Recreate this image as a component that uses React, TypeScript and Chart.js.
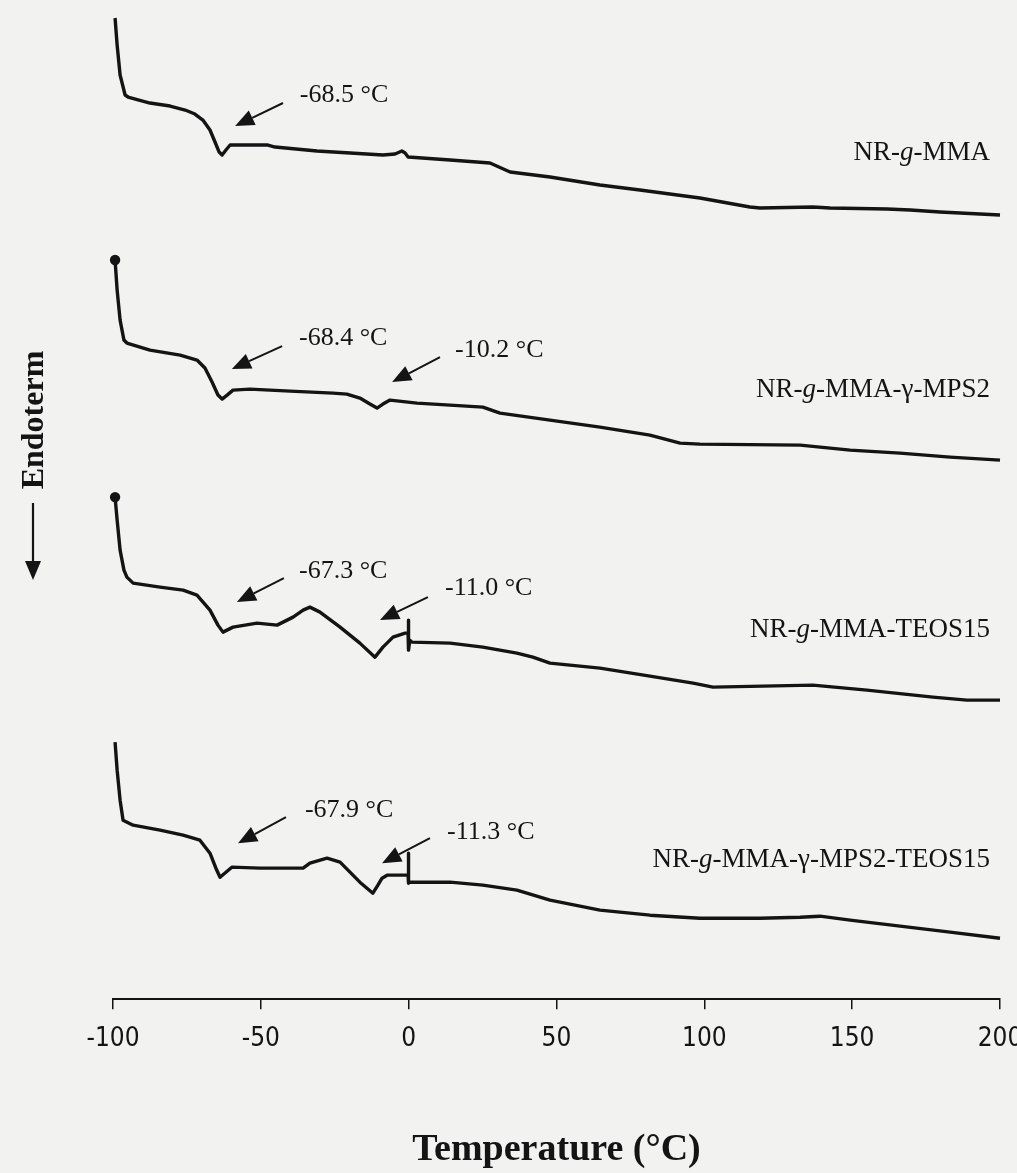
import React, { useEffect, useRef } from 'react';
import { Chart, registerables } from 'chart.js';

Chart.register(...registerables);

// X axis ticks (°C)
const tempTicks = [-100, -50, 0, 50, 100, 150, 200];

// NR-g-MMA
const mmaT = [-99.3, -98.6, -97.6, -95.9, -94.9, -87.5, -80.7, -75.6, -72.3, -69.6, -67.2, -65.5, -64.1, -63.1, -61.8, -60.4, -47.6, -45.2, -31.0, -19.8, -8.7, -4.6, -2.3, -1.2, -0.2, 14.0, 27.5, 34.3, 47.8, 64.7, 78.2, 98.5, 115.4, 118.8, 136.7, 142.5, 161.8, 169.6, 179.7, 200];
const mmaH = [98.1, 95.4, 92.4, 90.4, 90.2, 89.6, 89.3, 88.9, 88.5, 87.9, 86.9, 85.7, 84.7, 84.4, 84.9, 85.4, 85.4, 85.2, 84.8, 84.6, 84.4, 84.5, 84.8, 84.6, 84.2, 83.9, 83.6, 82.7, 82.2, 81.4, 80.9, 80.1, 79.2, 79.1, 79.2, 79.1, 79.0, 78.9, 78.7, 78.4];

// NR-g-MMA-γ-MPS2
const mpsT = [-99.3, -98.6, -97.6, -96.3, -95.3, -87.5, -77.3, -71.6, -68.9, -66.5, -64.5, -63.1, -61.4, -59.4, -53.7, -40.1, -25.6, -20.9, -16.5, -13.1, -10.7, -8.7, -6.3, 2.8, 14.0, 25.1, 30.9, 47.8, 64.7, 81.6, 91.8, 98.5, 132.4, 149.3, 166.2, 183.1, 200];
const mpsH = [73.9, 70.9, 67.9, 65.9, 65.6, 64.9, 64.4, 63.9, 63.1, 61.7, 60.4, 60.0, 60.4, 60.9, 61.0, 60.8, 60.6, 60.5, 60.1, 59.5, 59.1, 59.5, 59.9, 59.6, 59.4, 59.2, 58.6, 57.9, 57.2, 56.4, 55.6, 55.5, 55.4, 54.9, 54.6, 54.2, 53.9];

// NR-g-MMA-TEOS15
const teosT = [-99.3, -98.6, -97.6, -96.3, -95.3, -93.2, -84.1, -76.3, -71.6, -67.2, -64.5, -62.8, -59.4, -51.3, -44.5, -39.1, -35.7, -33.4, -30.0, -23.2, -16.5, -11.4, -8.7, -5.3, -1.2, -0.2, -0.2, 0.1, 0.4, 1.1, 14.0, 25.1, 36.6, 42.0, 47.8, 64.7, 81.6, 96.2, 102.9, 136.7, 155.0, 177.3, 188.8, 200];
const teosH = [50.2, 47.9, 44.9, 42.9, 42.2, 41.6, 41.2, 40.9, 40.4, 38.9, 37.4, 36.7, 37.2, 37.6, 37.4, 38.2, 38.9, 39.2, 38.7, 37.2, 35.6, 34.2, 35.2, 36.2, 36.6, 36.6, 37.9, 34.9, 35.9, 35.7, 35.6, 35.2, 34.6, 34.2, 33.6, 33.1, 32.3, 31.6, 31.2, 31.4, 30.9, 30.2, 29.9, 29.9];

// NR-g-MMA-γ-MPS2-TEOS15
const bothT = [-99.3, -98.6, -97.6, -96.6, -93.2, -84.1, -76.3, -70.6, -67.2, -65.2, -63.8, -61.8, -59.8, -50.3, -35.7, -33.4, -27.6, -23.2, -16.5, -12.1, -10.4, -9.0, -7.3, -0.2, -0.2, 0.1, 0.4, 14.0, 25.1, 36.6, 47.8, 64.7, 81.6, 98.5, 118.8, 132.4, 139.1, 149.3, 166.2, 183.1, 200];
const bothH = [25.7, 22.9, 19.9, 17.9, 17.4, 16.9, 16.4, 15.9, 14.6, 13.1, 12.2, 12.7, 13.2, 13.1, 13.1, 13.6, 14.1, 13.7, 11.7, 10.6, 11.4, 12.1, 12.4, 12.4, 14.6, 11.6, 11.7, 11.7, 11.4, 10.9, 9.9, 8.9, 8.4, 8.1, 8.1, 8.2, 8.3, 7.9, 7.3, 6.7, 6.1];

// Series names (italic g segments) and where the names sit (°C, heat flow)
const seriesNames = [
  [['NR-', false], ['g', true], ['-MMA', false]],
  [['NR-', false], ['g', true], ['-MMA-γ-MPS2', false]],
  [['NR-', false], ['g', true], ['-MMA-TEOS15', false]],
  [['NR-', false], ['g', true], ['-MMA-γ-MPS2-TEOS15', false]],
];
const nameX = [196.6, 196.6, 196.6, 196.6];
const nameY = [84.6, 60.9, 36.9, 13.9];

// Tg annotations: label, text anchor, arrow tail, arrow tip
const annLabels = ['-68.5 °C', '-68.4 °C', '-10.2 °C', '-67.3 °C', '-11.0 °C', '-67.9 °C', '-11.3 °C'];
const annTextX = [-36.8, -37.1, 15.7, -37.1, 12.3, -35.1, 13.0];
const annTextY = [90.4, 66.1, 64.9, 42.8, 41.1, 18.9, 16.7];
const annTailX = [-42.5, -42.8, 10.6, -42.2, 6.5, -41.5, 7.2];
const annTailY = [89.6, 65.3, 64.2, 42.1, 40.2, 18.2, 16.1];
const annTipX = [-58.7, -59.8, -5.6, -58.1, -9.7, -57.7, -9.0];
const annTipY = [87.3, 63.0, 61.7, 39.7, 37.9, 15.6, 13.6];

const INK = '#141414';
const SERIF = '"Liberation Serif", "Times New Roman", serif';

function drawArrow(ctx: CanvasRenderingContext2D, x1: number, y1: number, x2: number, y2: number, head: number, half: number, lw: number) {
  const ang = Math.atan2(y2 - y1, x2 - x1);
  const bx = x2 - head * Math.cos(ang);
  const by = y2 - head * Math.sin(ang);
  ctx.beginPath();
  ctx.lineWidth = lw;
  ctx.moveTo(x1, y1);
  ctx.lineTo(bx, by);
  ctx.stroke();
  ctx.beginPath();
  ctx.moveTo(x2, y2);
  ctx.lineTo(bx + half * Math.sin(ang), by - half * Math.cos(ang));
  ctx.lineTo(bx - half * Math.sin(ang), by + half * Math.cos(ang));
  ctx.closePath();
  ctx.fill();
}

const overlayPlugin = {
  id: 'overlay',
  afterDatasetsDraw(chart: any) {
    const ctx: CanvasRenderingContext2D = chart.ctx;
    const xs = chart.scales.x;
    const ys = chart.scales.y;
    ctx.save();
    ctx.fillStyle = INK;
    ctx.strokeStyle = INK;

    // series names, right aligned
    ctx.textBaseline = 'middle';
    seriesNames.forEach((segs: any, i: number) => {
      const size = 27;
      let total = 0;
      segs.forEach((s: any) => {
        ctx.font = `${s[1] ? 'italic ' : ''}${size}px ${SERIF}`;
        total += ctx.measureText(s[0]).width;
      });
      let x = xs.getPixelForValue(nameX[i]) - total;
      const y = ys.getPixelForValue(nameY[i]);
      ctx.textAlign = 'left';
      segs.forEach((s: any) => {
        ctx.font = `${s[1] ? 'italic ' : ''}${size}px ${SERIF}`;
        ctx.fillText(s[0], x, y);
        x += ctx.measureText(s[0]).width;
      });
    });

    // Tg annotations
    ctx.font = `26px ${SERIF}`;
    ctx.textAlign = 'left';
    annLabels.forEach((t, i) => {
      ctx.fillText(t, xs.getPixelForValue(annTextX[i]), ys.getPixelForValue(annTextY[i]));
      drawArrow(ctx,
        xs.getPixelForValue(annTailX[i]), ys.getPixelForValue(annTailY[i]),
        xs.getPixelForValue(annTipX[i]), ys.getPixelForValue(annTipY[i]), 19, 8, 2);
    });

    // vertical axis caption with arrow
    ctx.save();
    ctx.translate(35, 420);
    ctx.rotate(-Math.PI / 2);
    ctx.font = `bold 32px ${SERIF}`;
    ctx.textAlign = 'center';
    ctx.textBaseline = 'middle';
    ctx.fillText('Endoterm', 0, 0);
    ctx.restore();
    drawArrow(ctx, 33, 503, 33, 580, 19, 8, 2.2);

    ctx.restore();
  },
};

function toPoints(t: number[], h: number[]) {
  return t.map((x, i) => ({ x, y: h[i] }));
}

export default function App() {
  const ref = useRef<HTMLCanvasElement | null>(null);

  useEffect(() => {
    if (!ref.current) return;
    const dotFirst = (c: any) => (c.dataIndex === 0 ? 3.5 : 0);
    const base = {
      borderColor: INK,
      backgroundColor: INK,
      borderWidth: 3.4,
      pointRadius: 0,
      tension: 0,
      fill: false,
      clip: false as any,
      borderJoinStyle: 'round' as const,
    };
    const chart = new Chart(ref.current, {
      type: 'line',
      data: {
        datasets: [
          { ...base, label: 'NR-g-MMA', data: toPoints(mmaT, mmaH) },
          { ...base, label: 'NR-g-MMA-γ-MPS2', data: toPoints(mpsT, mpsH), pointRadius: dotFirst },
          { ...base, label: 'NR-g-MMA-TEOS15', data: toPoints(teosT, teosH), pointRadius: dotFirst },
          { ...base, label: 'NR-g-MMA-γ-MPS2-TEOS15', data: toPoints(bothT, bothH) },
        ],
      },
      options: {
        animation: false,
        responsive: false,
        maintainAspectRatio: false,
        layout: { padding: { left: 113, right: 17, top: 9, bottom: 0 } },
        plugins: { legend: { display: false }, tooltip: { enabled: false } },
        scales: {
          x: {
            type: 'linear',
            min: -100,
            max: 200,
            afterBuildTicks: (s: any) => {
              s.ticks = tempTicks.map((v) => ({ value: v }));
            },
            afterFit: (s: any) => {
              s.paddingLeft = 0;
              s.paddingRight = 0;
            },
            grid: { display: true, drawOnChartArea: false, drawTicks: true, tickLength: 10, color: INK, lineWidth: 1.5 },
            border: { display: true, color: INK, width: 2 },
            ticks: {
              autoSkip: false,
              maxRotation: 0,
              padding: 14,
              color: INK,
              font: { family: '"Liberation Sans Narrow", "Arial Narrow", "DejaVu Sans Condensed", sans-serif', size: 26 },
              callback: (v: any) => String(v),
            },
            title: {
              display: true,
              text: 'Temperature (°C)',
              color: INK,
              font: { family: SERIF, size: 38, weight: 'bold' },
              padding: { top: 59, bottom: 0 },
            },
          },
          y: { display: false, min: 0, max: 99 },
        },
      },
      plugins: [overlayPlugin],
    } as any);
    return () => chart.destroy();
  }, []);

  return (
    <div style={{ position: 'absolute', left: 0, top: 0, width: 1017, height: 1173, background: '#f2f2f0' }}>
      <canvas ref={ref} width={1017} height={1173} style={{ display: 'block' }} />
    </div>
  );
}
